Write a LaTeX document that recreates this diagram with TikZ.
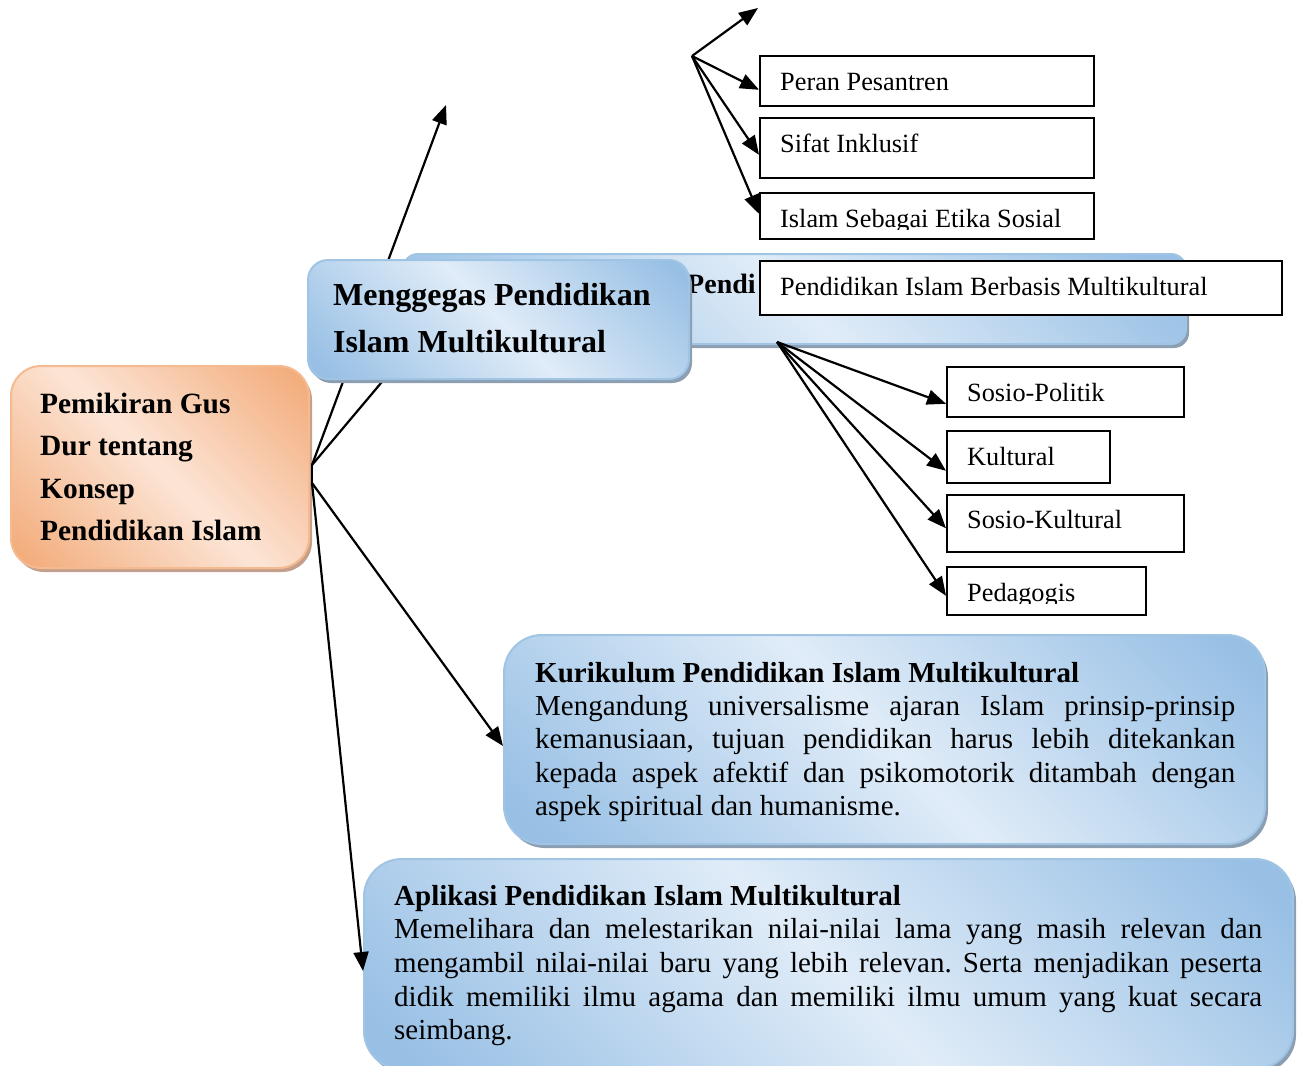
\documentclass[tikz,border=0pt]{standalone}
\usepackage{fontspec}
\setmainfont{Liberation Serif}
\usetikzlibrary{arrows.meta,shadows}
\frenchspacing
\definecolor{bdark}{RGB}{152,192,229}
\definecolor{blight}{RGB}{224,236,248}
\definecolor{bborder}{RGB}{160,196,228}
\definecolor{bshadow}{RGB}{140,158,178}
\definecolor{odark}{RGB}{243,174,126}
\definecolor{olight}{RGB}{252,229,214}
\definecolor{oborder}{RGB}{246,186,145}
\definecolor{oshadow}{RGB}{196,160,140}
\pgfdeclarehorizontalshading{blueband}{100bp}{color(0bp)=(bdark); color(18bp)=(bdark); color(50bp)=(blight); color(82bp)=(bdark); color(100bp)=(bdark)}
\pgfdeclarehorizontalshading{orangeband}{100bp}{color(0bp)=(odark); color(18bp)=(odark); color(50bp)=(olight); color(82bp)=(odark); color(100bp)=(odark)}
\begin{document}
\begin{tikzpicture}[x=1pt,y=-1pt,
  arr/.style={line width=2.2pt,-{Triangle[length=19pt,width=15pt]}},
  ln/.style={line width=2.2pt},
  rbox/.style={draw=black,line width=1.6pt,fill=white,inner sep=0pt,anchor=north west},
  btxt/.style={font=\fontsize{26.3}{30}\selectfont,anchor=base west,inner sep=0pt},
  bluebox/.style={shade,shading=blueband,shading angle=45,draw=bborder,line width=2pt,inner sep=0pt,anchor=north west,
     drop shadow={shadow xshift=3pt,shadow yshift=-4pt,fill=bshadow,opacity=1}},
  orangebox/.style={shade,shading=orangeband,shading angle=45,draw=oborder,line width=2pt,inner sep=0pt,anchor=north west,
     drop shadow={shadow xshift=3pt,shadow yshift=-4pt,fill=oshadow,opacity=1}},
  ttl/.style={font=\fontsize{32}{36}\selectfont\bfseries,anchor=base west,inner sep=0pt},
  otxt/.style={font=\fontsize{29.4}{34}\selectfont\bfseries,anchor=base west,inner sep=0pt},
  ptxt/.style={font=\fontsize{29}{33}\selectfont,anchor=base west,inner sep=0pt},
  ptitle/.style={font=\fontsize{29}{33}\selectfont\bfseries,anchor=base west,inner sep=0pt},
]
\useasboundingbox (0,0) rectangle (1300,1065);

% left orange box
\node[orangebox,rounded corners=30pt,minimum width=298pt,minimum height=202pt] (gus) at (10,365) {};
\node[otxt] (gus1) at (40,413) {Pemikiran Gus};
\node[otxt] (gus2) at (40,455) {Dur tentang};
\node[otxt] (gus3) at (40,498) {Konsep};
\node[otxt] (gus4) at (40,540) {Pendidikan Islam};

% back blue box
\node[bluebox,rounded corners=15pt,minimum width=783pt,minimum height=90pt] (pendib) at (402,253) {};
\node[font=\fontsize{28}{32}\selectfont\bfseries,anchor=base west,inner sep=0pt] (penditxt) at (687,293) {Pendi};

% hub and hidden connectors
\coordinate (hubA) at (312,465);
\coordinate (hubB) at (312,483);
\coordinate (topTip) at (446,105);
\draw[ln] (hubA) -- (hubB);
\draw[arr] (hubA) -- (topTip);
\draw[ln] (hubA) -- ([xshift=11pt]pendib.south west);

% Menggegas box
\node[bluebox,rounded corners=20pt,minimum width=381pt,minimum height=119pt] (meng) at (307,259) {};
\node[ttl] (meng1) at (333,305) {Menggegas Pendidikan};
\node[ttl] (meng2) at (333,352) {Islam Multikultural};

% Pendidikan Islam Berbasis Multikultural
\node[rbox,minimum width=522pt,minimum height=54pt] (pibm) at (759,260) {};
\node[btxt] (pibmT) at (780,295) {Pendidikan Islam Berbasis Multikultural};

% top boxes
\node[rbox,minimum width=334pt,minimum height=50pt] (peran) at (759,55) {};
\node[btxt] (peranT) at (780,90) {Peran Pesantren};
\node[rbox,minimum width=334pt,minimum height=60pt] (sifat) at (759,117) {};
\node[btxt] (sifatT) at (780,152) {Sifat Inklusif};
\node[rbox,minimum width=334pt,minimum height=46pt] (islam) at (759,192) {};
\begin{scope}
  \clip (760,193) rectangle (1092,229);
  \node[btxt] (islamT) at (780,227) {Islam Sebagai Etika Sosial};
\end{scope}

\coordinate (fanT) at (692,56);
\coordinate (topEnd) at (758,8);
\draw[arr] (fanT) -- (topEnd);
\draw[arr] (fanT) -- ([yshift=-9pt]peran.west);
\draw[arr] (fanT) -- ([yshift=-7pt]sifat.west);
\draw[arr] (fanT) -- ([yshift=2pt]islam.west);

% bottom boxes
\node[rbox,minimum width=237pt,minimum height=50pt] (sospol) at (946,366) {};
\node[btxt] (sospolT) at (967,401) {Sosio-Politik};
\node[rbox,minimum width=163pt,minimum height=52pt] (kult) at (946,430) {};
\node[btxt] (kultT) at (967,465) {Kultural};
\node[rbox,minimum width=237pt,minimum height=57pt] (soskul) at (946,494) {};
\node[btxt] (soskulT) at (967,528) {Sosio-Kultural};
\node[rbox,minimum width=199pt,minimum height=48pt] (ped) at (946,566) {};
\begin{scope}
  \clip (947,567) rectangle (1143,603);
  \node[btxt] (pedT) at (967,601) {Pedagogis};
\end{scope}

\coordinate (fanB) at (777,342);
\draw[arr] (fanB) -- ([yshift=-12pt]sospol.west);
\draw[arr] (fanB) -- ([yshift=-14pt]kult.west);
\draw[arr] (fanB) -- ([yshift=-5pt]soskul.west);
\draw[arr] (fanB) -- ([yshift=-5pt]ped.west);

% Kurikulum box
\node[bluebox,rounded corners=38pt,minimum width=761pt,minimum height=209pt] (kur) at (503,634) {};
\node[ptitle] (kur0) at (535,682) {Kurikulum Pendidikan Islam Multikultural};
\node[ptxt] (kur1) at (535,715) {\makebox[700pt][s]{Mengandung universalisme ajaran Islam prinsip-prinsip}};
\node[ptxt] (kur2) at (535,748) {\makebox[700pt][s]{kemanusiaan, tujuan pendidikan harus lebih ditekankan}};
\node[ptxt] (kur3) at (535,782) {\makebox[700pt][s]{kepada aspek afektif dan psikomotorik ditambah dengan}};
\node[ptxt] (kur4) at (535,815) {aspek spiritual dan humanisme.};

% Aplikasi box
\node[bluebox,rounded corners=38pt,minimum width=929pt,minimum height=210pt] (apl) at (363,858) {};
\node[ptitle] (apl0) at (394,905) {Aplikasi Pendidikan Islam Multikultural};
\node[ptxt] (apl1) at (394,938) {\makebox[868pt][s]{Memelihara dan melestarikan nilai-nilai lama yang masih relevan dan}};
\node[ptxt] (apl2) at (394,972) {\makebox[868pt][s]{mengambil nilai-nilai baru yang lebih relevan. Serta menjadikan peserta}};
\node[ptxt] (apl3) at (394,1006) {\makebox[868pt][s]{didik memiliki ilmu agama dan memiliki ilmu umum yang kuat secara}};
\node[ptxt] (apl4) at (394,1039) {seimbang.};

\draw[arr] (hubB) -- ([yshift=-6.5pt]kur.west);
\draw[arr] (hubB) -- ([yshift=-7pt]apl.west);
\end{tikzpicture}
\end{document}
